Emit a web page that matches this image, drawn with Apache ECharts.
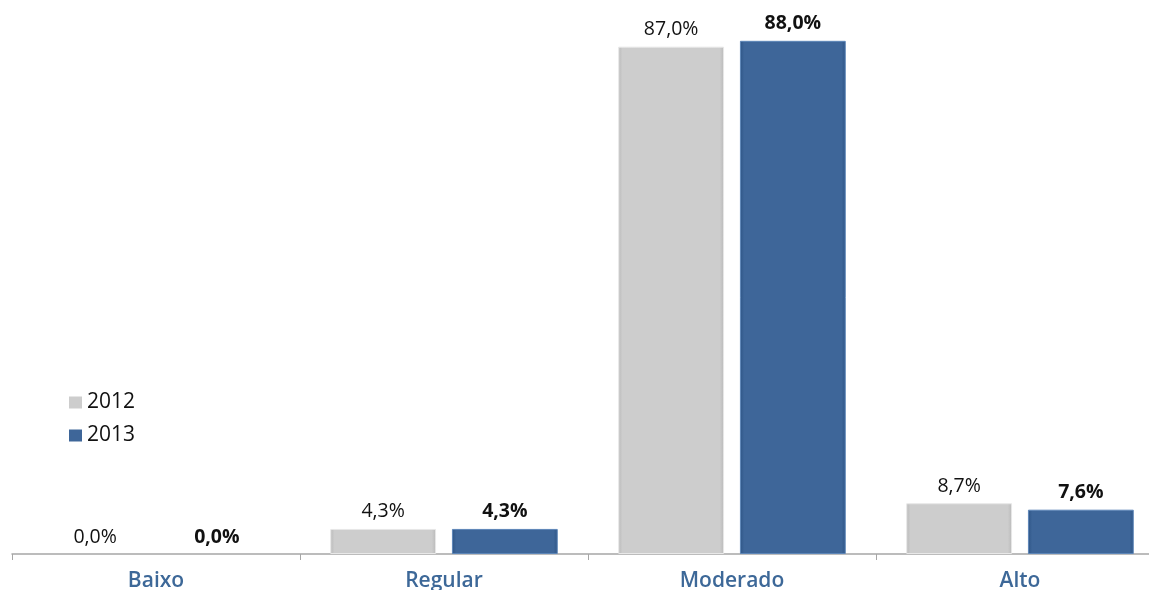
<!DOCTYPE html>
<html><head><meta charset="utf-8">
<script src="https://cdn.jsdelivr.net/npm/echarts@6/dist/echarts.min.js"></script>
<style>html,body{margin:0;padding:0;background:#fff}#c{width:1149px;height:590px}</style>
</head><body><div id="c"></div>
<script>
var categories = ['Baixo', 'Regular', 'Moderado', 'Alto'];
var values2012 = [0.0, 4.3, 87.0, 8.7];
var values2013 = [0.0, 4.3, 88.0, 7.6];
var seriesNames = ['2012', '2013'];

function fmt(p){ return p.value.toFixed(1).replace('.', ',') + '%'; }
function grad(edge, mid){
  return new echarts.graphic.LinearGradient(0,0,1,0,[
    {offset:0,color:edge},{offset:0.04,color:mid},{offset:0.96,color:mid},{offset:1,color:edge}]);
}
function items(vals, border){
  return vals.map(function(v){ return {value:v, itemStyle:{borderWidth: v > 0 ? 1 : 0, borderColor:border}}; });
}
var chart = echarts.init(document.getElementById('c'));
chart.setOption({
  animation:false,
  textStyle:{fontFamily:'Open Sans'},
  grid:{left:12, width:1152, top:0, bottom:36, containLabel:false, outerBoundsMode:'none'},
  legend:{orient:'vertical', left:64, top:387, itemWidth:13, itemHeight:12, itemGap:12,
    textStyle:{fontSize:21, color:'#111', fontFamily:'Open Sans', fontWeight:500},
    data:[{name:seriesNames[0], icon:'rect'},{name:seriesNames[1], icon:'rect'}]},
  xAxis:{type:'category', data:categories,
    axisLine:{lineStyle:{color:'#a6a6a6', width:1.5}},
    axisTick:{show:true, length:6, lineStyle:{color:'#a6a6a6'}},
    axisLabel:{fontSize:21, color:'#3d6898', fontWeight:600, margin:17, fontFamily:'Open Sans'}},
  yAxis:{type:'value', min:0, max:95, show:false, splitLine:{show:false}},
  series:[
    {name:seriesNames[0], type:'bar', data:items(values2012,'#e8e8e8'), barGap:'15%', barCategoryGap:'21%',
     itemStyle:{color:grad('#b9b9b9','#cdcdcd')},
     label:{show:true, position:'top', distance:7, formatter:fmt, fontSize:19.5, color:'#111'}},
    {name:seriesNames[1], type:'bar', data:items(values2013,'#5d86b8'),
     itemStyle:{color:grad('#2e5586','#3e6699')},
     label:{show:true, position:'top', distance:7, formatter:fmt, fontSize:19.5, color:'#111', fontWeight:'bold'}}
  ]
});
</script></body></html>
